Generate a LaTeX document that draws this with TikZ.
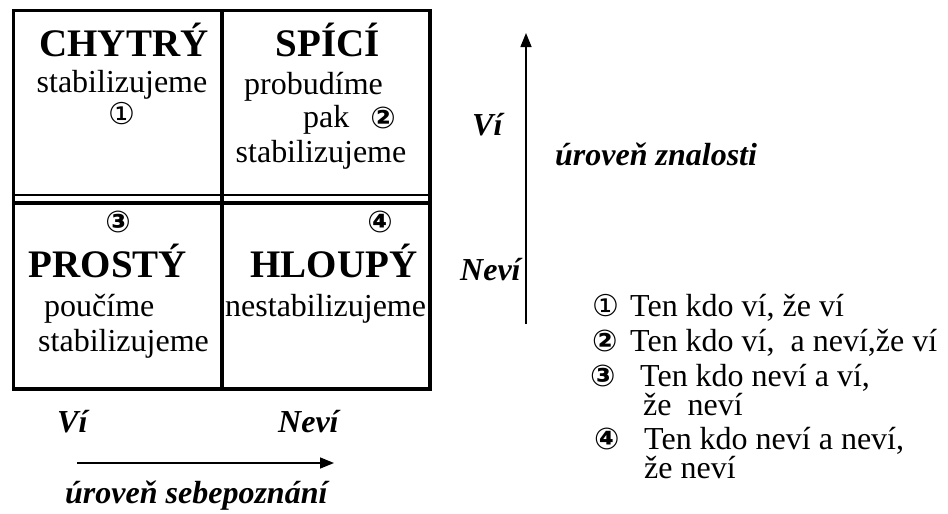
\documentclass[tikz,border=0pt]{standalone}
\usepackage{fontspec}
\setmainfont{Liberation Serif}
\newfontfamily\circfont{DejaVu Sans}
\usetikzlibrary{arrows.meta}
\tikzset{
  x=1pt, y=-1pt,
  boxline/.style={line width=3.2pt},
  thinbox/.style={line width=2.2pt},
  axis/.style={line width=1.5pt, -{Triangle[length=14pt,width=11pt]}},
  title/.style={font=\fontsize{39}{42}\selectfont\bfseries, inner sep=0pt},
  body/.style={font=\fontsize{32}{36}\selectfont, inner sep=0pt},
  lab/.style={font=\fontsize{32}{36}\selectfont\bfseries\itshape, inner sep=0pt},
  circ/.style={font=\fontsize{30}{32}\circfont, inner sep=0pt},
  circb/.style={font=\fontsize{30}{32}\circfont\bfseries, inner sep=0pt},
}
\begin{document}
\begin{tikzpicture}
\useasboundingbox (0,0) rectangle (948,514);
% grid
\draw[boxline] (13.5,10.5) rectangle (430,389);
\draw[boxline] (222,10.5) -- (222,389);
\draw[thinbox] (13.5,195) -- (430,195);
\draw[boxline] (13.5,203) -- (430,203);
% cell 1
\node[title, anchor=base] (chytry) at (124,56) {CHYTRÝ};
\node[body, anchor=base] (stab1) at (122,92) {stabilizujeme};
\node[circ] (c1) at (122,114) {①};
% cell 2
\node[title, anchor=base] (spici) at (328,56) {SPÍCÍ};
\node[body, anchor=base west] (probud) at (244,94) {probudíme};
\node[body, anchor=base west] (pak) at (303,127) {pak};
\node[circb] (c2) at (383,118) {②};
\node[body, anchor=base] (stab2) at (321,162) {stabilizujeme};
% cell 3
\node[circb] (c3) at (118,222) {③};
\node[title, anchor=base] (prosty) at (108,277) {PROSTÝ};
\node[body, anchor=base west] (pouc) at (44,316) {poučíme};
\node[body, anchor=base west] (stab3) at (38,351) {stabilizujeme};
% cell 4
\node[circb] (c4) at (380,222) {④};
\node[title, anchor=base] (hloupy) at (334,277) {HLOUPÝ};
\node[body, anchor=base west] (nestab) at (225,316) {nestabilizujeme};
% bottom axis
\node[lab, anchor=base west] (vi1) at (57,432) {Ví};
\node[lab, anchor=base west] (nevi1) at (278,432) {Neví};
\coordinate (h0) at (77,463);
\coordinate (h1) at (334,463);
\draw[axis] (h0) -- (h1);
\node[lab, anchor=base west] (sebe) at (65,503) {úroveň sebepoznání};
% right axis
\coordinate (v0) at (526,324);
\coordinate (v1) at (526,33);
\draw[axis] (v0) -- (v1);
\node[lab, anchor=base west] (vi2) at (472,135) {Ví};
\node[lab, anchor=base west] (nevi2) at (460,280) {Neví};
\node[lab, anchor=base west] (znal) at (555,165) {úroveň znalosti};
% legend
\node[circ, anchor=base west] (l1c) at (592,316) {①};
\node[body, anchor=base west] (l1) at (630,316) {Ten kdo ví, že ví};
\node[circb, anchor=base west] (l2c) at (592,351) {②};
\node[body, anchor=base west] (l2) at (630,351) {Ten kdo ví,\ \ a neví,že ví};
\node[circb, anchor=base west] (l3c) at (590,386) {③};
\node[body, anchor=base west] (l3) at (640,386) {Ten kdo neví a ví,};
\node[body, anchor=base west] (l4) at (643,415) {že\ \ neví};
\node[circb, anchor=base west] (l4c) at (594,449) {④};
\node[body, anchor=base west] (l5) at (644,449) {Ten kdo neví a neví,};
\node[body, anchor=base west] (l6) at (644,478) {že neví};
\end{tikzpicture}
\end{document}
